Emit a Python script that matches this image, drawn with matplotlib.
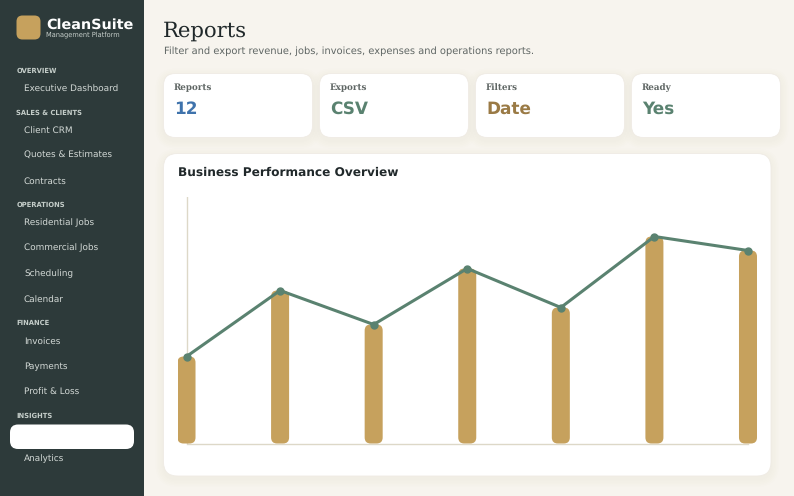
# -*- coding: utf-8 -*-
import matplotlib
matplotlib.use('Agg')
import matplotlib.pyplot as plt
from matplotlib.patches import FancyBboxPatch, Rectangle

plt.rcParams['text.hinting'] = 'no_hinting'
plt.rcParams['text.hinting_factor'] = 8

W, H = 794, 496

periods = [0, 1, 2, 3, 4, 5, 6]
performance = [87, 153, 119, 175, 136, 207, 193]

nav_sections = ['OVERVIEW', 'SALES & CLIENTS', 'OPERATIONS', 'FINANCE', 'INSIGHTS']
nav_section_y = [70.5, 112.5, 204.5, 322.5, 415.5]
nav_items = ['Executive Dashboard', 'Client CRM', 'Quotes & Estimates', 'Contracts',
             'Residential Jobs', 'Commercial Jobs', 'Scheduling', 'Calendar',
             'Invoices', 'Payments', 'Profit & Loss', 'Analytics']
nav_item_y = [88, 130, 155.5, 181, 222.5, 248, 273.5, 299, 341, 366.5, 391.5, 458.5]

card_labels = ['Reports', 'Exports', 'Filters', 'Ready']
card_values = ['12', 'CSV', 'Date', 'Yes']
card_colors = ['#3f73ac', '#5a8270', '#9a7a45', '#5a8270']
card_left = [163.5, 319.5, 475.5, 631.5]

GOLD = '#c6a15d'
GREEN = '#5a8270'
SIDEBAR = '#2d3a3a'
PAGE = '#f7f4ee'


def rounded(ax, x0, y0, x1, y1, r, color, zorder=2, alpha=1.0, edge='none', lw=0):
    p = FancyBboxPatch((x0 + r, y0 + r), x1 - x0 - 2 * r, y1 - y0 - 2 * r,
                       boxstyle='round,pad=%f,rounding_size=%f' % (r, r),
                       facecolor=color, edgecolor=edge, linewidth=lw,
                       alpha=alpha, zorder=zorder)
    ax.add_patch(p)


def panel(ax, x0, y0, x1, y1, r):
    # soft shadow from stacked translucent boxes
    for grow in [8, 6.5, 5, 3.5, 2, 1]:
        rounded(ax, x0 - grow, y0 - grow + 3, x1 + grow, y1 + grow + 3, r + grow,
                '#8a7f6a', zorder=1, alpha=0.009)
    rounded(ax, x0, y0, x1, y1, r, 'white', zorder=2, edge='#efebe4', lw=0.6)


def px(size):
    return size * 0.72


def draw_sidebar(ax):
    ax.add_patch(Rectangle((0, 0), 144, H, facecolor=SIDEBAR, edgecolor='none', zorder=3))
    rounded(ax, 16.5, 15.5, 40.5, 39.5, 6, GOLD, zorder=4)
    ax.text(46, 25, 'CleanSuite', color='white', fontsize=px(14.35), fontweight='bold',
            va='center', ha='left', zorder=5)
    ax.text(46.5, 35, 'Management Platform', color='#c8d0cc', fontsize=px(6.65),
            va='center', ha='left', zorder=5)
    for name, y in zip(nav_sections, nav_section_y):
        ax.text(16.5, y, name, color='#c4cdc9', fontsize=px(6.8), fontweight='bold',
                va='center', ha='left', zorder=5)
    for name, y in zip(nav_items, nav_item_y):
        ax.text(24, y, name, color='#d3d9d6', fontsize=px(8.85),
                va='center', ha='left', zorder=5)
    rounded(ax, 10, 424.5, 134, 449, 8, 'white', zorder=4)


def draw_header(ax):
    ax.text(163, 30.5, 'Reports', color='#20282a', fontsize=px(21.2), family='DejaVu Serif',
            va='center', ha='left', zorder=5)
    ax.text(163.5, 51, 'Filter and export revenue, jobs, invoices, expenses and operations reports.',
            color='#5f6664', fontsize=px(9.9), va='center', ha='left', zorder=5)


def draw_cards(ax):
    for left, label, value, color in zip(card_left, card_labels, card_values, card_colors):
        panel(ax, left, 73.5, left + 149, 137.5, 12)
        ax.text(left + 10.5, 87.5, label, color='#5f6664', fontsize=px(8.8), fontweight='bold',
                family='DejaVu Serif', va='center', ha='left', zorder=5)
        ax.text(left + 10.5, 109.5, value, color=color, fontsize=px(16.9), fontweight='bold',
                va='center', ha='left', zorder=5)


def draw_chart(fig):
    # axes placed so one y unit is one pixel, x unit is one category step
    left, right, top, bottom = 177.5, 757.5, 196.5, 443.5
    step = 93.5
    ch = fig.add_axes([left / W, 1 - bottom / H, (right - left) / W, (bottom - top) / H])
    ch.set_xlim(-9.0 / step, 6 + 9.5 / step)
    ch.set_ylim(0, bottom - top)
    ch.patch.set_alpha(0)
    ch.set_xticks([])
    ch.set_yticks([])
    for s in ['top', 'right', 'left', 'bottom']:
        ch.spines[s].set_visible(False)

    ch.plot([0, 0], [0, bottom - top], color='#ddd8c8', lw=1, zorder=1)
    ch.plot([0, 6], [0, 0], color='#ddd8c8', lw=1, zorder=1, clip_on=False)

    bar_w = 18.0 / step
    radius = 6.0
    for x, v in zip(periods, performance):
        b = FancyBboxPatch((x - bar_w / 2 + radius / step, radius),
                           bar_w - 2 * radius / step, v - 2 * radius,
                           boxstyle='round,pad=%f,rounding_size=%f' % (radius / step, radius / step),
                           mutation_aspect=step, facecolor=GOLD, edgecolor='none', zorder=2)
        ch.add_patch(b)

    ch.plot(periods, performance, color=GREEN, lw=2.2, marker='o', markersize=5,
            markerfacecolor=GREEN, markeredgecolor=GREEN, zorder=3, clip_on=False)


def main():
    fig = plt.figure(figsize=(W / 100, H / 100), dpi=100, facecolor=PAGE)
    ax = fig.add_axes([0, 0, 1, 1])
    ax.set_xlim(0, W)
    ax.set_ylim(H, 0)
    ax.axis('off')

    draw_sidebar(ax)
    draw_header(ax)
    draw_cards(ax)

    panel(ax, 163.5, 153.5, 771, 476, 14)
    ax.text(177.5, 173, 'Business Performance Overview', color='#20282a', fontsize=px(12.15),
            fontweight='bold', va='center', ha='left', zorder=5)
    draw_chart(fig)

    fig.savefig('out.png', dpi=100, facecolor=PAGE)


if __name__ == '__main__':
    main()
